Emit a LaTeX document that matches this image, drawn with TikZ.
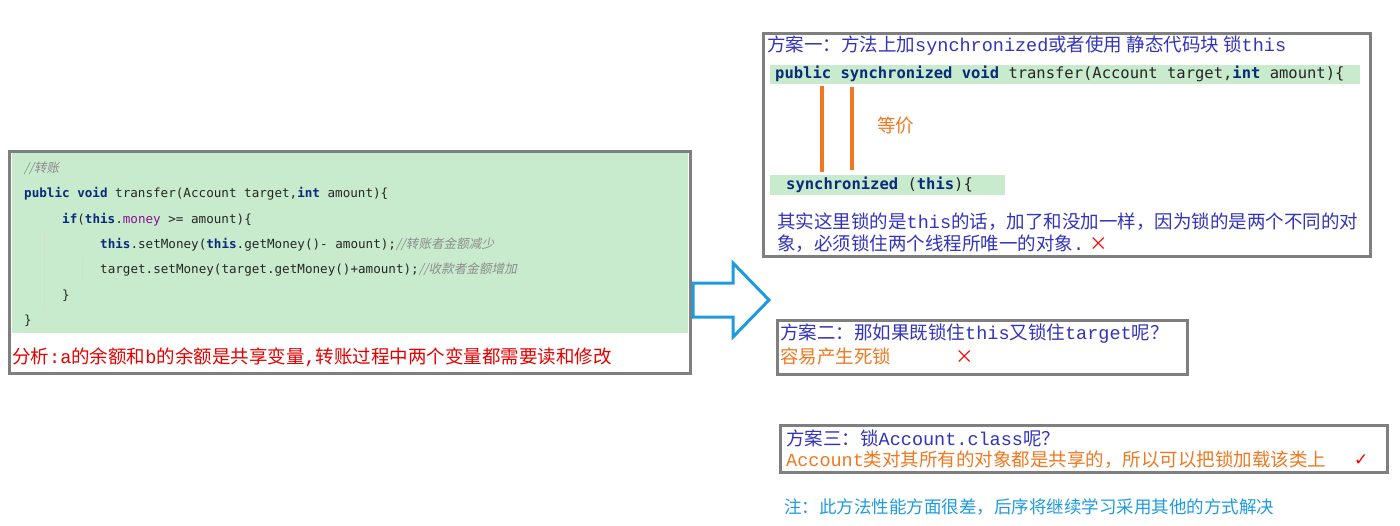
\documentclass[tikz,border=0pt]{standalone}
\usepackage{fontspec}
\setmainfont{Noto Sans CJK SC}
\setmonofont{DejaVu Sans Mono}
\newfontfamily\cjk{Noto Sans CJK SC}
\newfontfamily\latm{Liberation Mono}
\newfontfamily\cjkit[FakeSlant=0.2]{Noto Sans CJK SC}
\definecolor{cgreen}{HTML}{C8EBCE}
\definecolor{cgray}{HTML}{7F7F7F}
\definecolor{kw}{HTML}{0B2A7A}
\definecolor{cmt}{HTML}{8C8C8C}
\definecolor{fld}{HTML}{871094}
\definecolor{ttl}{HTML}{3333BB}
\definecolor{org}{HTML}{F07820}
\definecolor{arr}{HTML}{1E9BE0}
\newcommand{\kk}[1]{\textcolor{kw}{\bfseries #1}}
\newcommand{\cm}[1]{\textcolor{cmt}{\cjkit #1}}
\newcommand{\lt}[1]{{\latm #1}}
\begin{document}
\begin{tikzpicture}[x=1pt,y=-1pt,
  frame/.style={draw=cgray,line width=3pt},
  code/.style={anchor=west,inner sep=0pt,font=\ttfamily\fontsize{12.6}{14}\selectfont,text=black!85},
  code2/.style={anchor=west,inner sep=0pt,font=\ttfamily\fontsize{15.5}{17}\selectfont,text=black!85},
  txt/.style={anchor=west,inner sep=0pt,font=\cjk\fontsize{18.5}{20}\selectfont}]
\useasboundingbox (0,0) rectangle (1400,525);
% left box
\fill[cgreen] (12,153) rectangle (688,333);
\draw[frame] (9,151) rectangle (690,373);
\draw[black!15] (44,232) -- (44,310);
\draw[black!15] (82,258) -- (82,284);
\node[code] (c0) at (24,168) {\cm{//转账}};
\node[code] (c1) at (24,194) {\kk{public void} transfer(Account target,\kk{int} amount)\{};
\node[code] (c2) at (62,220) {\kk{if}(\kk{this}.\textcolor{fld}{money} >= amount)\{};
\node[code] (c3) at (100,245) {\kk{this}.setMoney(\kk{this}.getMoney()- amount);\cm{//转账者金额减少}};
\node[code] (c4) at (100,270) {target.setMoney(target.getMoney()+amount);\cm{//收款者金额增加}};
\node[code] (c5) at (62,296) {\}};
\node[code] (c6) at (24,321) {\}};
\node[txt,text=red!90!black] (an) at (12,357) {分析\lt{:a}的余额和\lt{b}的余额是共享变量\lt{,}转账过程中两个变量都需要读和修改};
% arrow
\draw[arr,line width=3pt,line join=miter] (693,283) -- (733,283) -- (733,263) -- (769,300) -- (733,337) -- (733,317) -- (693,317) -- cycle;
% box 1
\draw[frame] (763,33) rectangle (1370,256);
\fill[cgreen] (770,65) rectangle (1360,84);
\fill[cgreen] (770,175) rectangle (1005,195);
\node[txt,text=ttl] (t1) at (767,46) {方案一：方法上加\lt{synchronized}或者使用 静态代码块 锁\lt{this}};
\node[code2] (s1) at (775,74) {\kk{public synchronized void} transfer(Account target,\kk{int} amount)\{};
\node[code2] (s2) at (786,185) {\kk{synchronized} (\kk{this})\{};
\draw[org,line width=4pt] (822,86) coordinate (a1) -- (822,172);
\draw[org,line width=4pt] (852,87) coordinate (b1) -- (852,170);
\node[txt,text=org] (eq) at (877,125) {等价};
\node[txt,text=ttl] (e1) at (777,222) {其实这里锁的是\lt{this}的话，加了和没加一样，因为锁的是两个不同的对};
\node[txt,text=ttl] (e2) at (777,244) {象，必须锁住两个线程所唯一的对象\lt{.} \textcolor{red}{×}};
% box 2
\draw[frame] (777,320) rectangle (1187,374);
\node[txt,text=ttl] (p2) at (780,334) {方案二：那如果既锁住\lt{this}又锁住\lt{target}呢？};
\node[txt,text=org] (q2) at (780,356) {容易产生死锁\hspace{3.5em}\textcolor{red}{×}};
% box 3
\draw[frame] (780,425) rectangle (1387,472);
\node[txt,text=ttl] (p3) at (786,438) {方案三：锁\lt{Account.class}呢？};
\node[txt,text=org] (q3) at (786,460) {\lt{Account}类对其所有的对象都是共享的，所以可以把锁加载该类上};
\node[anchor=west,inner sep=0pt,text=red,font=\fontspec{DejaVu Sans}\fontsize{17}{19}\selectfont] (ck) at (1354,460) {✓};
\node[txt,text=arr,font=\cjk\fontsize{17.5}{19}\selectfont] (nt) at (784,507) {注：此方法性能方面很差，后序将继续学习采用其他的方式解决};
\end{tikzpicture}
\end{document}
